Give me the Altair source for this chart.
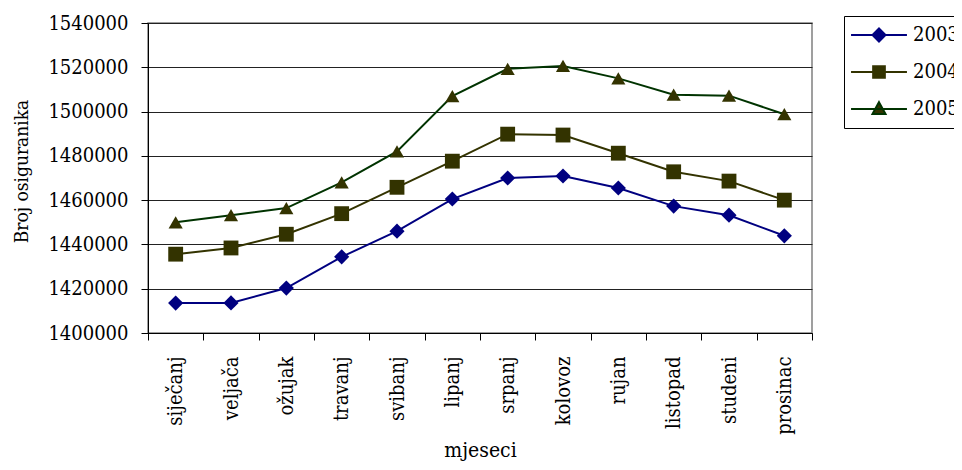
import altair as alt
import pandas as pd

months = ["siječanj", "veljača", "ožujak", "travanj", "svibanj", "lipanj",
          "srpanj", "kolovoz", "rujan", "listopad", "studeni", "prosinac"]
years = ["2003.", "2004.", "2005."]
v2003 = [1413500, 1413600, 1420300, 1434400, 1446000, 1460500,
         1470000, 1470900, 1465500, 1457300, 1453200, 1443900]
v2004 = [1435600, 1438400, 1444600, 1453900, 1465800, 1477600,
         1489800, 1489400, 1481200, 1472800, 1468600, 1460000]
v2005 = [1450000, 1453200, 1456400, 1468000, 1482000, 1507000,
         1519300, 1520600, 1515000, 1507600, 1507200, 1498800]
line_colors = ["#000080", "#333300", "#003300"]
marker_colors = ["#000080", "#333300", "#333300"]
shapes = ["diamond", "square", "triangle-up"]
legend_paths = [
    "M-4.3,0H4.3M0,-1L1,0L0,1L-1,0Z",
    "M-4.3,0H4.3M-0.9,-0.9H0.9V0.9H-0.9Z",
    "M-4.3,0H4.3M0,-1.05L1,0.75L-1,0.75Z",
]

rows = []
for yr, vals in zip(years, [v2003, v2004, v2005]):
    for m, v in zip(months, vals):
        rows.append({"month": m, "series": yr, "value": v})
df = pd.DataFrame(rows)

FONT = "DejaVu Serif Condensed"

x_enc = alt.X(
    "month:N", sort=months, bandPosition=0.5,
    scale=alt.Scale(type="band", paddingInner=0, paddingOuter=0),
    axis=alt.Axis(title="mjeseci", labelAngle=-90, tickBand="extent",
                  grid=False, domainColor="#000", tickColor="#000",
                  tickSize=7, labelPadding=16, titlePadding=5,
                  titleFontSize=21),
)
y_enc = alt.Y(
    "value:Q",
    scale=alt.Scale(domain=[1400000, 1540000], nice=False, zero=False),
    axis=alt.Axis(title="Broj osiguranika", format="d",
                  values=list(range(1400000, 1540001, 20000)),
                  grid=True, gridColor="#222", gridWidth=1,
                  domainColor="#000", tickColor="#000", tickSize=7,
                  labelPadding=13, titlePadding=16, titleFontSize=19,
                  titleY=148),
)

base = alt.Chart(df)
layers = []
sizes = [230, 220, 200]
for yr, lc, mc, sh, sz in zip(years, line_colors, marker_colors, shapes, sizes):
    sub = base.transform_filter(alt.datum.series == yr)
    layers.append(sub.mark_line(color=lc, strokeWidth=2).encode(x=x_enc, y=y_enc))
    layers.append(sub.mark_point(shape=sh, filled=True, size=sz, color=mc,
                                 opacity=1).encode(x=x_enc, y=y_enc))

legend_layer = base.transform_filter("false").mark_point(
    filled=True, strokeWidth=2, size=169, opacity=1
).encode(
    x=x_enc, y=y_enc,
    shape=alt.Shape("series:N", scale=alt.Scale(domain=years, range=legend_paths),
                    legend=alt.Legend(title=None)),
    fill=alt.Fill("series:N", scale=alt.Scale(domain=years, range=marker_colors)),
    stroke=alt.Stroke("series:N", scale=alt.Scale(domain=years, range=line_colors)),
)

chart = alt.layer(*layers, legend_layer).properties(
    width=664, height=310,
    padding={"left": 140, "top": 15, "right": 142, "bottom": 129},
    autosize=alt.AutoSizeParams(type="none"),
).configure_view(
    stroke="#808080", strokeWidth=1.5
).configure_axis(
    labelFont=FONT, titleFont=FONT, labelFontSize=20,
    labelColor="#000", titleColor="#000", titleFontWeight="normal",
).configure_legend(
    orient="none", legendX=696, legendY=-7,
    strokeColor="#000", fillColor="#fff", padding=9,
    labelFont=FONT, labelFontSize=20, labelColor="#000",
    symbolSize=169, symbolStrokeWidth=2, rowPadding=16,
    labelOffset=24, symbolOffset=16,
)

chart.save("out.html", embed_options={"renderer": "svg", "actions": False})
